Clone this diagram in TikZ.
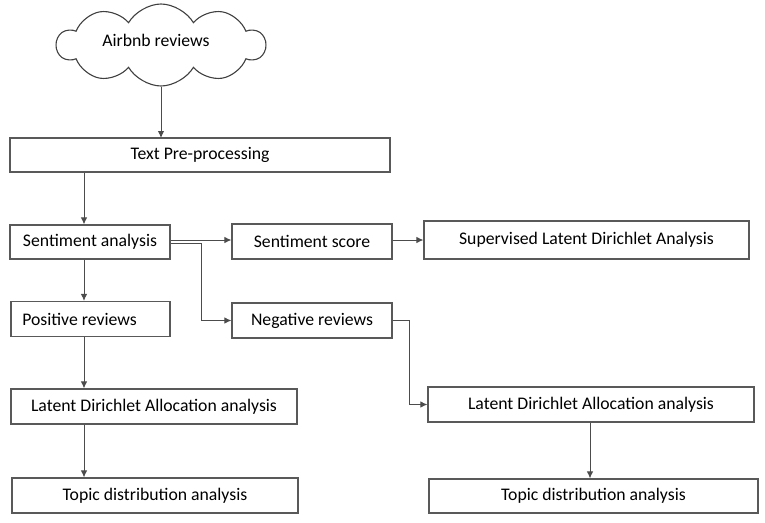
\documentclass[tikz,border=0pt]{standalone}
\usepackage{fontspec}
\setmainfont{Carlito}
\usetikzlibrary{arrows.meta,shapes.symbols,calc}
\begin{document}
\begin{tikzpicture}[x=1pt,y=-1pt,
  txt/.style={font=\fontsize{17.7}{20}\selectfont},
  box/.style={draw=black!65,line width=1.1pt,rectangle,inner sep=0pt,txt},
  conn/.style={draw=black!70,line width=1pt,-{Latex[length=7pt,width=6.5pt]}}]
\useasboundingbox (0,0) rectangle (765,522);
\node[cloud,draw=black!75,line width=1.1pt,cloud puffs=10,cloud puff arc=120,aspect=2.6,minimum width=208pt,minimum height=82pt,inner sep=0pt] (air) at (161,45) {};
\node[txt] (airt) at (156,40) {Airbnb reviews};
\node[box,minimum width=380pt,minimum height=34pt] (tp) at (200,155) {Text Pre-processing};
\node[box,minimum width=160pt,minimum height=34pt] (sa) at (90,242) {Sentiment analysis};
\node[box,minimum width=160pt,minimum height=35pt] (ss) at (312,241.5) {Sentiment score};
\node[box,minimum width=325pt,minimum height=38pt] (sl) at (586.5,240) {Supervised Latent Dirichlet Analysis};
\node[box,minimum width=159pt,minimum height=35pt] (pr) at (90.5,319) {\hspace{-22pt}Positive reviews};
\node[box,minimum width=160pt,minimum height=35pt] (nr) at (312,320.5) {Negative reviews};
\node[box,minimum width=286pt,minimum height=35pt] (ll) at (154,406.5) {Latent Dirichlet Allocation analysis};
\node[box,minimum width=326pt,minimum height=35pt] (lr) at (591,404.5) {Latent Dirichlet Allocation analysis};
\node[box,minimum width=286pt,minimum height=35pt] (tl) at (155,495.5) {Topic distribution analysis};
\node[box,minimum width=329pt,minimum height=34pt] (tr) at (593.5,496) {Topic distribution analysis};
\coordinate (bx) at (201,0);
\coordinate (nx) at (409,0);
\draw[conn] (air.south -| 161,0) -- (161,138);
\draw[conn] (tp.south -| 84,0) -- (sa.north -| 84,0);
\draw[conn] (sa.east |- 0,240) -- (ss.west |- 0,240);
\draw[conn] (sa.east |- 0,243) -| (bx |- nr.west) -- (nr.west);
\draw[conn] (ss.east |- 0,240) -- (sl.west |- 0,240);
\draw[conn] (sa.south -| 84,0) -- (pr.north -| 84,0);
\draw[conn] (pr.south -| 84,0) -- (ll.north -| 84,0);
\draw[conn] (ll.south -| 84,0) -- (tl.north -| 84,0);
\draw[conn] (nr.east) -| (nx |- lr.west) -- (lr.west);
\draw[conn] (lr.south -| 590,0) -- (tr.north -| 590,0);
\end{tikzpicture}
\end{document}
